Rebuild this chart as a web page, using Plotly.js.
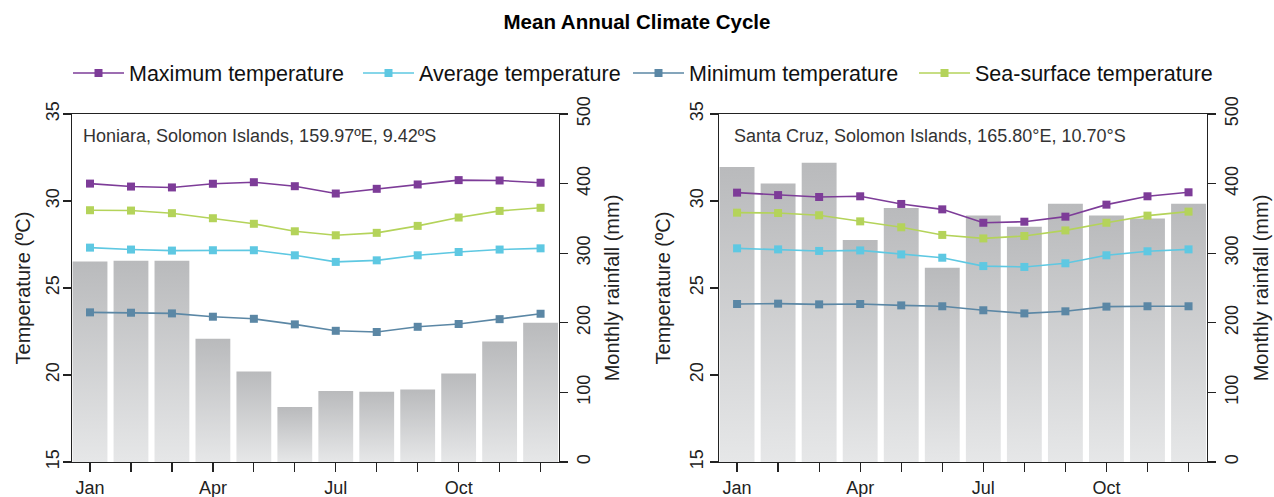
<!DOCTYPE html>
<html>
<head>
<meta charset="utf-8">
<script src="https://cdn.plot.ly/plotly-3.0.1.min.js"></script>
<style>html,body{margin:0;padding:0;background:#fff;}#chart{width:1274px;height:497px;}</style>
</head>
<body>
<div id="chart"></div>
<script>
// ---- data ----
const months = ['Jan','Feb','Mar','Apr','May','Jun','Jul','Aug','Sep','Oct','Nov','Dec'];
const tickLabels = ['Jan','','','Apr','','','Jul','','','Oct','',''];

const honiaraRain = [288, 289, 289, 177, 130, 79, 102, 101, 104, 127, 173, 200];
const honiaraMax  = [31.00, 30.83, 30.78, 30.99, 31.08, 30.85, 30.43, 30.70, 30.95, 31.20, 31.18, 31.05];
const honiaraAvg  = [27.32, 27.21, 27.15, 27.17, 27.17, 26.88, 26.50, 26.59, 26.88, 27.07, 27.21, 27.28];
const honiaraMin  = [23.60, 23.58, 23.54, 23.35, 23.23, 22.91, 22.54, 22.47, 22.77, 22.93, 23.21, 23.52];
const honiaraSST  = [29.47, 29.45, 29.30, 29.01, 28.69, 28.26, 28.03, 28.17, 28.57, 29.05, 29.43, 29.61];

const santaRain = [424, 400, 430, 319, 365, 279, 354, 338, 371, 354, 350, 371];
const santaMax  = [30.48, 30.34, 30.23, 30.27, 29.83, 29.52, 28.75, 28.81, 29.10, 29.79, 30.27, 30.50];
const santaAvg  = [27.28, 27.22, 27.13, 27.16, 26.93, 26.74, 26.26, 26.21, 26.42, 26.88, 27.11, 27.22];
const santaMin  = [24.08, 24.10, 24.06, 24.08, 24.00, 23.95, 23.72, 23.54, 23.66, 23.93, 23.95, 23.95];
const santaSST  = [29.33, 29.31, 29.18, 28.83, 28.49, 28.05, 27.85, 27.99, 28.31, 28.75, 29.16, 29.39];

const seriesNames = ['Maximum temperature','Average temperature','Minimum temperature','Sea-surface temperature'];
const stationLabels = ['Honiara, Solomon Islands, 159.97ºE, 9.42ºS', 'Santa Cruz, Solomon Islands, 165.80°E, 10.70°S'];
const temperatureTitle = 'Temperature (ºC)';
const rainfallTitle = 'Monthly rainfall (mm)';
const chartTitle = 'Mean Annual Climate Cycle';

// ---- styles ----
const colors = ['#7d3c98', '#5ec8e2', '#5b87a5', '#b4d35a'];
const FONT = 'Liberation Sans, Arial, sans-serif';
const W = 1274, H = 497;
const idx = months.map((m, i) => i);
const barW = 0.85;
const legendIds = ['legend', 'legend2', 'legend3', 'legend4'];
const legendLeft = [74, 364, 634, 920];

const traces = [];

function addBars(rain, xa, ya) {
  rain.forEach((v, i) => {
    traces.push({
      type: 'scatter', mode: 'none', fill: 'toself',
      x: [i - barW/2, i - barW/2, i + barW/2, i + barW/2, i - barW/2],
      y: [0, v, v, 0, 0],
      fillcolor: '#cfd0d2',
      fillgradient: {type: 'vertical', colorscale: [[0, '#e6e7e8'], [1, '#b9babc']]},
      xaxis: xa, yaxis: ya, showlegend: false, hoverinfo: 'skip', name: months[i]
    });
  });
}

function addLines(series, xa, ya, legend) {
  series.forEach((s, k) => {
    traces.push({
      type: 'scatter', mode: 'lines+markers', x: idx, y: s,
      name: seriesNames[k],
      line: {color: colors[k], width: 1.6},
      marker: {symbol: 'square', size: 8, color: colors[k]},
      xaxis: xa, yaxis: ya, showlegend: legend, legend: legendIds[k]
    });
  });
}

addBars(honiaraRain, 'x', 'y');
addBars(santaRain, 'x2', 'y3');
addLines([honiaraMax, honiaraAvg, honiaraMin, honiaraSST], 'x', 'y2', true);
addLines([santaMax, santaAvg, santaMin, santaSST], 'x2', 'y4', false);

const yDom = [1 - 462/H, 1 - 114/H];
const axisCommon = {
  showgrid: false, zeroline: false, showline: true, linecolor: '#222', linewidth: 1.2,
  ticks: 'outside', tickcolor: '#222', tickwidth: 1.2,
  tickfont: {family: FONT, size: 18, color: '#222'}
};
function xAxis(dom, anchor) {
  return Object.assign({}, axisCommon, {
    domain: dom, anchor: anchor, range: [-0.44, 11.45], tickvals: idx, ticktext: tickLabels,
    ticklen: 9, mirror: true
  });
}
function rainAxis(anchor, standoff) {
  return Object.assign({}, axisCommon, {
    domain: yDom, anchor: anchor, side: 'right', range: [0, 500], tickvals: [0,100,200,300,400,500],
    ticklen: 8, tickangle: -90,
    title: {text: rainfallTitle, font: {family: FONT, size: 20, color: '#222'}, standoff: standoff}
  });
}
function tempAxis(anchor, over, labelStandoff, standoff) {
  return Object.assign({}, axisCommon, {
    overlaying: over, anchor: anchor, side: 'left', range: [15, 35], tickvals: [15,20,25,30,35],
    ticklen: 8, tickangle: -90, ticklabelstandoff: labelStandoff,
    title: {text: temperatureTitle, font: {family: FONT, size: 20, color: '#222'}, standoff: standoff}
  });
}

const layout = {
  width: W, height: H,
  margin: {l: 0, r: 0, t: 0, b: 0},
  paper_bgcolor: '#fff', plot_bgcolor: '#fff',
  title: {text: '<b>' + chartTitle + '</b>', x: 0.5, xanchor: 'center', y: 1 - 22/H, yanchor: 'middle',
          font: {family: FONT, size: 20.5, color: '#000'}},
  showlegend: true,
  xaxis: xAxis([72/W, 559/W], 'y'),
  yaxis: rainAxis('x', 12),
  yaxis2: tempAxis('x', 'y', -3, 6),
  xaxis2: xAxis([719/W, 1207/W], 'y3'),
  yaxis3: rainAxis('x2', 13),
  yaxis4: tempAxis('x2', 'y3', 0, 10),
  annotations: [
    {text: stationLabels[0], xref: 'paper', yref: 'paper', x: 81/W, y: 1 - 136/H, xanchor: 'left', yanchor: 'middle',
     showarrow: false, font: {family: FONT, size: 18, color: '#333'}},
    {text: stationLabels[1], xref: 'paper', yref: 'paper', x: 732/W, y: 1 - 136/H, xanchor: 'left', yanchor: 'middle',
     showarrow: false, font: {family: FONT, size: 18, color: '#333'}}
  ]
};
legendIds.forEach((id, k) => {
  layout[id] = {orientation: 'h', x: (legendLeft[k] - 6) / W, xanchor: 'left', y: 1 - 73/H, yanchor: 'middle',
                font: {family: FONT, size: 21.5, color: '#111'}, itemwidth: 51, bgcolor: 'rgba(0,0,0,0)'};
});

Plotly.newPlot('chart', traces, layout, {displayModeBar: false, staticPlot: true});
</script>
</body>
</html>
